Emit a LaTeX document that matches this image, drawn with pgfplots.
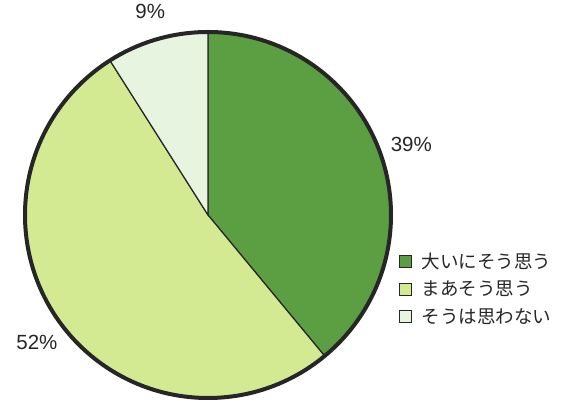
\documentclass[border=0pt]{standalone}
\usepackage{pgfplots}
\usepackage{pgfplotstable}
\pgfplotsset{compat=1.18}
\usepackage{fontspec}
\setmainfont{Liberation Sans}
\newfontfamily\cjk{Noto Sans CJK JP}

\definecolor{slice0}{HTML}{5C9E42}
\definecolor{slice1}{HTML}{D4EA92}
\definecolor{slice2}{HTML}{E7F4DF}
\definecolor{rim}{HTML}{262626}

% shares in percent, clockwise from 12 o'clock
\pgfplotstableread{
share
39
52
9
}\piedata

\begin{document}
\begin{tikzpicture}
\begin{axis}[
    name=ax,
    x=1pt, y=1pt,
    xmin=0, xmax=563, ymin=0, ymax=403,
    hide axis,
    clip=false,
    legend style={at={(axis cs:399,114)}, anchor=west, draw=none,
        fill=none, font=\cjk\fontsize{18.5}{22}\selectfont,
        row sep=7pt, inner sep=0pt, text=rim},
    legend cell align=left,
]
\addlegendimage{legend image code/.code={\draw[fill=slice0,draw=rim,line width=0.9pt] (0pt,-6pt) rectangle (12pt,6pt); \path (20pt,0pt);}}
\addlegendentry{大いにそう思う}
\addlegendimage{legend image code/.code={\draw[fill=slice1,draw=rim,line width=0.9pt] (0pt,-6pt) rectangle (12pt,6pt); \path (20pt,0pt);}}
\addlegendentry{まあそう思う}
\addlegendimage{legend image code/.code={\draw[fill=slice2,draw=rim,line width=0.9pt] (0pt,-6pt) rectangle (12pt,6pt); \path (20pt,0pt);}}
\addlegendentry{そうは思わない}

\pgfplotsextra{
  \xdef\angA{90}
  \pgfplotstableforeachcolumnelement{share}\of\piedata\as\v{%
    \pgfmathsetmacro\angB{\angA-3.6*\v}%
    \pgfmathsetmacro\angM{(\angA+\angB)/2}%
    \fill[slice\pgfplotstablerow, draw=rim, line width=1.2pt]
      (axis cs:208,188) -- ++(\angA:183pt)
      arc[start angle=\angA, end angle=\angB, radius=183pt] -- cycle;
    \node[text=rim, font=\fontsize{20.5}{24}\selectfont]
      at ([shift={(\angM:214pt)}]axis cs:210,186) {\v\%};
    \xdef\angA{\angB}%
  }
  \draw[rim, line width=4pt] (axis cs:208,188) circle[radius=183pt];
}
\end{axis}
\pgfresetboundingbox
\path[use as bounding box] (ax.south west) rectangle (ax.north east);
\end{tikzpicture}
\end{document}
